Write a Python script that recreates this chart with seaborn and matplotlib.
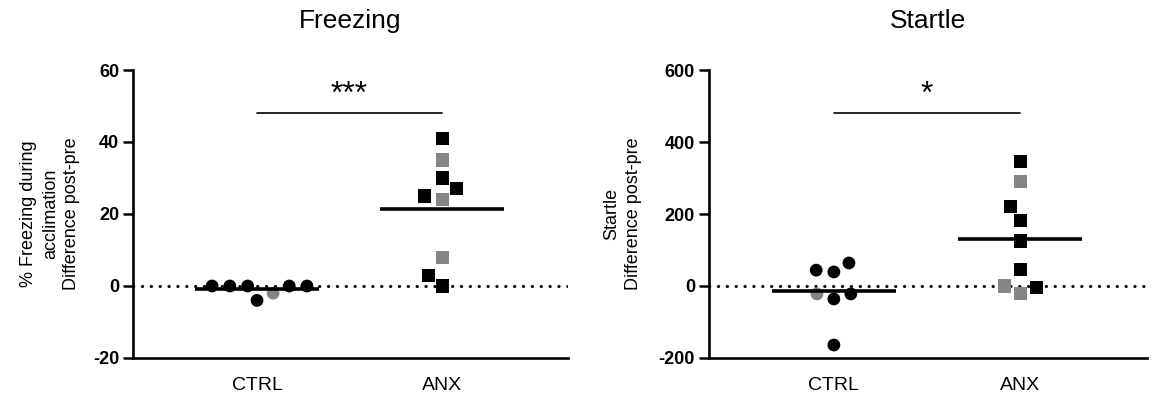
import numpy as np
import pandas as pd
import matplotlib
matplotlib.use("Agg")
import matplotlib.pyplot as plt
import seaborn as sns

# ---------------- data ----------------
groups = ["CTRL", "ANX"]

freeze_ctrl = [0, 0, 0, -4, 0, 0, -2]
freeze_ctrl_shade = ["k", "k", "k", "k", "k", "k", "g"]
freeze_anx = [41, 35, 30, 27, 24, 25, 8, 3, 0]
freeze_anx_shade = ["k", "g", "k", "k", "g", "k", "g", "k", "k"]

startle_ctrl = [39, 64, 44, -22, -36, -22, -164]
startle_ctrl_shade = ["k", "k", "k", "g", "k", "k", "k"]
startle_anx = [347, 289, 222, 181, 125, 47, 0, -22, -3]
startle_anx_shade = ["k", "g", "k", "k", "k", "k", "g", "g", "k"]

freeze_ticks = [-20, 0, 20, 40, 60]
startle_ticks = [-200, 0, 200, 400, 600]

freeze_sig = ("***", 48)
startle_sig = ("*", 480)

titles = ["Freezing", "Startle"]
ylabels = ["% Freezing during\nacclimation\nDifference post-pre",
           "Startle\nDifference post-pre"]

# ---------------- style ----------------
sns.set_theme(style="ticks")
plt.rcParams["font.family"] = ["Liberation Sans", "DejaVu Sans"]
for k in ["text.color", "axes.labelcolor", "xtick.color", "ytick.color",
          "axes.edgecolor"]:
    plt.rcParams[k] = "black"

palette = {"k": "#000000", "g": "#858585"}

def make_df(ctrl, ctrl_shade, anx, anx_shade):
    return pd.DataFrame({
        "group": ["CTRL"] * len(ctrl) + ["ANX"] * len(anx),
        "value": list(ctrl) + list(anx),
        "shade": list(ctrl_shade) + list(anx_shade),
    })

dfs = [make_df(freeze_ctrl, freeze_ctrl_shade, freeze_anx, freeze_anx_shade),
       make_df(startle_ctrl, startle_ctrl_shade, startle_anx, startle_anx_shade)]
ticks = [freeze_ticks, startle_ticks]
sigs = [freeze_sig, startle_sig]
labelpads = [9, 12]

fig = plt.figure(figsize=(11.53, 3.99), dpi=100)
axes = [fig.add_axes([133 / 1153, 41 / 399, 435 / 1153, 288 / 399]),
        fig.add_axes([709 / 1153, 41 / 399, 438 / 1153, 288 / 399])]

for ax, df, tk, sig, title, ylab, lp in zip(axes, dfs, ticks, sigs, titles,
                                            ylabels, labelpads):
    ax.axhline(0, color="black", lw=2.2, ls=(0, (0.1, 2.8)),
               dash_capstyle="round", zorder=1)
    for grp, mk, sz in [("CTRL", "o", 9.2), ("ANX", "s", 9.4)]:
        sub = df[df["group"] == grp]
        sns.swarmplot(data=sub, x="group", y="value", hue="shade",
                      order=groups, palette=palette, marker=mk, size=sz,
                      linewidth=3.0, edgecolor="none", legend=False, ax=ax,
                      zorder=3)
    means = df.groupby("group")["value"].mean()
    for i, g in enumerate(groups):
        ax.hlines(means[g], i - 0.333, i + 0.333, color="black", lw=2.6, zorder=4)
    # significance bar
    ax.plot([0, 1], [sig[1], sig[1]], color="black", lw=1.2)
    ax.text(0.5, sig[1] + (tk[-1] - tk[0]) * 0.012, sig[0], ha="center",
            va="bottom", fontsize=23)

    ax.set_xlim(-0.67, 1.68)
    ax.set_ylim(tk[0], tk[-1])
    ax.set_yticks(tk)
    ax.set_yticklabels([str(t) for t in tk], fontweight="bold", fontsize=13)
    ax.set_xticks([0, 1])
    ax.set_xticklabels(groups, fontsize=14)
    ax.tick_params(axis="y", length=7, width=1.8, pad=3, color="black")
    ax.tick_params(axis="x", length=0, pad=14)
    ax.set_xlabel("")
    ax.set_ylabel(ylab, fontsize=13, linespacing=1.35, labelpad=lp)
    ax.set_title(title, fontsize=19, pad=30)
    for s in ["top", "right"]:
        ax.spines[s].set_visible(False)
    for s in ["left", "bottom"]:
        ax.spines[s].set_linewidth(1.9)
        ax.spines[s].set_color("black")

fig.savefig("out.png", dpi=100)
